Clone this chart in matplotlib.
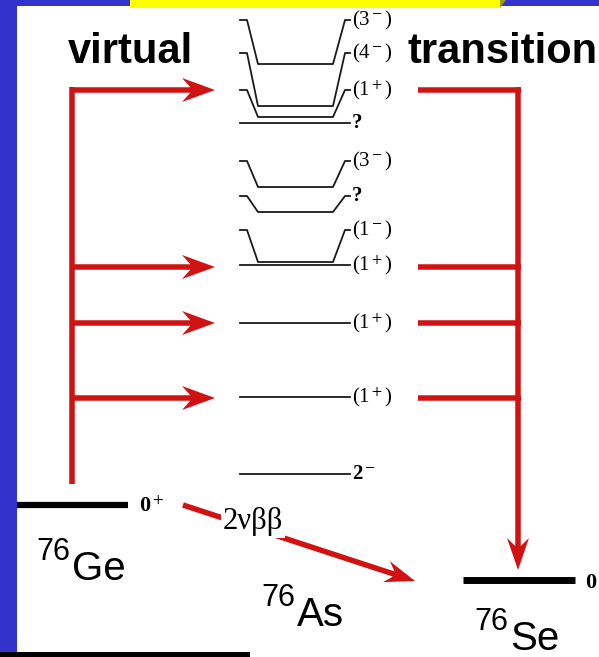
import matplotlib.pyplot as plt
from matplotlib.patches import Rectangle, Polygon

plt.rcParams['mathtext.fontset'] = 'stix'

RED = '#d01212'
BLUE = '#3333cc'
INK = '#1a1a1a'

# 76As intermediate states: where the spin label sits, where the level line sits
label_y = [20, 53, 90, 123, 161, 196, 230, 265, 323, 397, 474]
line_y = [64, 106, 117, 123, 187, 212, 262, 265, 323, 397, 474]
spins = ['(3$^-$)', '(4$^-$)', '(1$^+$)', '?', '(3$^-$)', '?', '(1$^-$)',
         '(1$^+$)', '(1$^+$)', '(1$^+$)', '2$^-$']
bold_spin = [False, False, False, True, False, True, False, False, False, False, True]

# virtual transitions through the 1+ states
virtual_y = [90, 267, 323, 398]

# ground states
ge_y, se_y = 505, 580

fig = plt.figure(figsize=(5.99, 6.57), dpi=100)
ax = fig.add_axes([0, 0, 1, 1])
ax.set_xlim(0, 599)
ax.set_ylim(657, 0)
ax.axis('off')

# slide frame
ax.add_patch(Rectangle((0, 0), 17, 653, color=BLUE, lw=0))
ax.add_patch(Rectangle((0, 0), 599, 6, color=BLUE, lw=0))
ax.add_patch(Rectangle((130, 0), 370, 8, color='#ffff00', lw=0))
ax.add_patch(Polygon([(500, 0), (506, 0), (500, 8)], color='#9a9a20', lw=0))
ax.add_patch(Rectangle((0, 652), 250, 5, color='black', lw=0))

# headings
ax.text(68, 63, 'virtual', fontsize=30, fontweight='bold',
        family='Liberation Sans', va='baseline')
ax.text(407, 63, 'transition', fontsize=30, fontweight='bold',
        family='Liberation Sans', va='baseline')

# level scheme of 76As
for ly, y, s, b in zip(label_y, line_y, spins, bold_spin):
    if ly == y:
        ax.plot([240, 350], [y, y], color=INK, lw=1.3)
    else:
        ax.plot([240, 247, 258, 333, 345, 350], [ly, ly, y, y, ly, ly],
                color=INK, lw=1.3)
    ax.text(352, ly, s, fontsize=15, family='Liberation Serif',
            fontweight='bold' if b else 'normal', va='center', ha='left')

# left branch: Ge -> virtual states
w = 5.5
top = virtual_y[0] - w / 2
ax.plot([72, 72], [top, 484], color=RED, lw=w * 0.72, solid_capstyle='butt')
for y in virtual_y:
    ax.arrow(72, y, 143, 0, width=w, head_width=24, head_length=33,
             overhang=0.25, length_includes_head=True, color=RED, lw=0)

# right branch: virtual states -> Se
for y in virtual_y:
    ax.plot([418, 518 + w / 2], [y, y], color=RED, lw=w * 0.72,
            solid_capstyle='butt')
ax.arrow(518, top, 0, 570 - top, width=w, head_width=22, head_length=32,
         overhang=0.25, length_includes_head=True, color=RED, lw=0)

# direct 2vbb decay
ax.arrow(183, 505, 232, 76, width=w, head_width=22, head_length=30,
         overhang=0.25, length_includes_head=True, color=RED, lw=0, zorder=2)
ax.text(253, 522, '2νββ', fontsize=22, family='Liberation Serif',
        ha='center', va='center', zorder=3,
        bbox=dict(facecolor='white', edgecolor='none', pad=1))

# ground state lines
ax.plot([17, 128], [ge_y, ge_y], color='black', lw=4.5, solid_capstyle='butt')
ax.plot([463, 575], [se_y, se_y], color='black', lw=5, solid_capstyle='butt')
ax.text(139, 512, '0$^+$', fontsize=16, fontweight='bold',
        family='Liberation Serif', va='baseline')
ax.text(585, 588, '0', fontsize=16, fontweight='bold',
        family='Liberation Serif', va='baseline')

# nuclide names
for x, y, mass, name in [(36, 580, '76', 'Ge'), (261, 626, '76', 'As'),
                         (474, 650, '76', 'Se')]:
    ax.text(x, y - 20, mass, fontsize=22, family='Liberation Sans', va='baseline')
    ax.text(x + 36, y, name, fontsize=29, family='Liberation Sans', va='baseline')

fig.savefig('out.png', dpi=100)
